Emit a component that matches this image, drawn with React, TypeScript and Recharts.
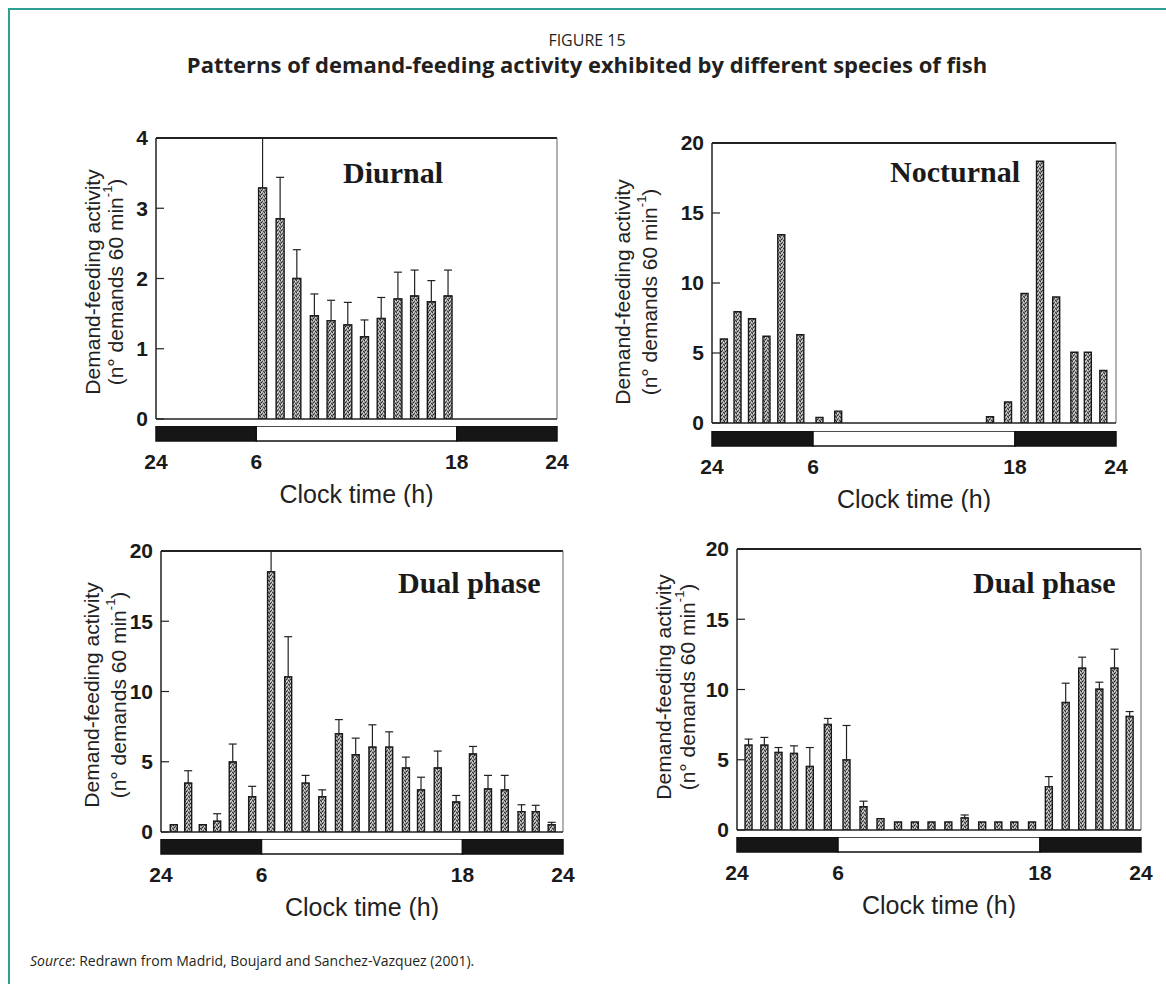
import React from 'react';
import { ComposedChart, BarChart, Bar, XAxis, YAxis, ErrorBar, ReferenceLine } from 'recharts';

// ---------------- data ----------------
const diurnalHours = [6.4, 7.45, 8.45, 9.5, 10.5, 11.5, 12.5, 13.5, 14.5, 15.5, 16.5, 17.5];
const diurnalActivity = [3.29, 2.85, 2.0, 1.47, 1.4, 1.34, 1.17, 1.43, 1.71, 1.75, 1.67, 1.75];
const diurnalSE = [0.71, 0.59, 0.41, 0.31, 0.29, 0.32, 0.24, 0.3, 0.38, 0.37, 0.3, 0.37];

const nocturnalHours = [0.72, 1.53, 2.39, 3.25, 4.13, 5.26, 6.4, 7.51, 16.53, 17.6, 18.58, 19.5, 20.46, 21.54, 22.34, 23.26];
const nocturnalActivity = [6.0, 7.95, 7.45, 6.2, 13.45, 6.3, 0.4, 0.85, 0.45, 1.5, 9.25, 18.7, 9.0, 5.05, 5.05, 3.75];

const dualAHours = [0.74, 1.6, 2.47, 3.33, 4.26, 5.42, 6.55, 7.57, 8.61, 9.6, 10.6, 11.6, 12.6, 13.6, 14.6, 15.5, 16.5, 17.6, 18.6, 19.5, 20.5, 21.5, 22.35, 23.3];
const dualAActivity = [0.52, 3.48, 0.52, 0.76, 4.98, 2.51, 18.53, 11.04, 3.48, 2.51, 6.99, 5.5, 6.04, 6.04, 4.55, 3.0, 4.55, 2.13, 5.55, 3.06, 3.0, 1.45, 1.45, 0.52];
const dualASE = [null, 0.88, null, 0.54, 1.28, 0.74, 1.47, 2.86, 0.55, 0.49, 1.01, 1.18, 1.59, 1.09, 0.78, 0.9, 1.21, 0.47, 0.54, 0.97, 1.03, 0.49, 0.45, 0.17];

const dualBHours = [0.66, 1.6, 2.44, 3.36, 4.3, 5.37, 6.48, 7.49, 8.5, 9.54, 10.54, 11.53, 12.53, 13.5, 14.54, 15.5, 16.45, 17.5, 18.5, 19.5, 20.48, 21.5, 22.4, 23.3];
const dualBActivity = [6.04, 6.04, 5.52, 5.45, 4.52, 7.51, 4.99, 1.66, 0.81, 0.57, 0.57, 0.57, 0.57, 0.86, 0.57, 0.57, 0.57, 0.57, 3.09, 9.07, 11.52, 10.02, 11.52, 8.08];
const dualBSE = [0.43, 0.55, 0.35, 0.54, 1.35, 0.43, 2.45, 0.39, null, null, null, null, null, 0.21, null, null, null, null, 0.71, 1.38, 0.78, 0.5, 1.35, 0.35];

const yTicksDiurnal = [0, 1, 2, 3, 4];
const yTicks20 = [0, 5, 10, 15, 20];
const xTickValues = [0, 6, 18, 24];
const xTickLabels = ['24', '6', '18', '24'];
const lightPhases = ['dark', 'light', 'dark'];
const lightPhaseHours = [6, 12, 6];

const figureLabel = 'FIGURE 15';
const figureTitle = 'Patterns of demand-feeding activity exhibited by different species of fish';
const yTitle1 = 'Demand-feeding activity';
const xTitle = 'Clock time (h)';

// ---------------- styling / layout ----------------
const TEAL = '#2f9f93';
const SANS = '"Liberation Sans", Arial, Helvetica, sans-serif';
const SERIF = '"Liberation Serif", "Times New Roman", serif';
const TITLE_FONT = '"Open Sans", "Noto Sans", sans-serif';

type Layout = {
  L: number; R: number; T: number; Z: number; S: number;
  barSize: number; y1dx: number; y2dx: number; ycy: number;
  name: string; nameX: number; nameY: number;
};

const layouts: Record<string, Layout> = {
  diurnal: { L: 156, R: 557, T: 138, Z: 419, S: 426, barSize: 8, y1dx: -64, y2dx: -41, ycy: 282, name: 'Diurnal', nameX: 343, nameY: 183 },
  nocturnal: { L: 712, R: 1116, T: 143, Z: 423, S: 431, barSize: 7, y1dx: -90, y2dx: -63, ycy: 292, name: 'Nocturnal', nameX: 890, nameY: 182 },
  dualA: { L: 161, R: 563, T: 551, Z: 832, S: 839, barSize: 7, y1dx: -70, y2dx: -43, ycy: 695, name: 'Dual phase', nameX: 398, nameY: 593 },
  dualB: { L: 737, R: 1141, T: 549, Z: 830, S: 837, barSize: 7, y1dx: -74, y2dx: -50, ycy: 687, name: 'Dual phase', nameX: 973, nameY: 593 },
};

const makeYTitle = (lay: Layout) => (props: any) => {
  const vb = props.viewBox || {};
  const right = vb.x + vb.width;
  const cy = vb.y + vb.height / 2 + (lay.ycy - (lay.T + lay.Z) / 2);
  const st = { fontFamily: SANS, fontSize: 21, fill: '#222' };
  return (
    <g>
      <text transform={`translate(${right + lay.y1dx},${cy}) rotate(-90)`} textAnchor="middle" dominantBaseline="central" style={st}>
        {yTitle1}
      </text>
      <text transform={`translate(${right + lay.y2dx},${cy}) rotate(-90)`} textAnchor="middle" dominantBaseline="central" style={st}>
        (n° demands 60 min<tspan dy={-8} fontSize={13}>-1</tspan><tspan dy={8}>)</tspan>
      </text>
    </g>
  );
};

const clockTitle = (props: any) => {
  const vb = props.viewBox || {};
  return (
    <text x={vb.x + vb.width / 2} y={vb.y + 53} textAnchor="middle" dominantBaseline="central"
      style={{ fontFamily: SANS, fontSize: 25, fill: '#222' }}>
      {xTitle}
    </text>
  );
};

function ActivityPanel({ lay, hours, activity, se, yMax, yTicks }: any) {
  const mTop = 14, mBottom = 16, mRight = 12, yAxisW = 60, mLeft = 60;
  const width = (lay.R - lay.L) + yAxisW + mLeft + mRight;
  const height = (lay.Z - lay.T) + mTop + mBottom;
  const data = hours.map((t: number, i: number) => ({
    t,
    v: activity[i],
    err: se && se[i] != null ? [0, se[i]] : null,
  }));
  return (
    <div style={{ position: 'absolute', left: lay.L - yAxisW - mLeft, top: lay.T - mTop }}>
      <ComposedChart width={width} height={height} data={data} margin={{ top: mTop, right: mRight, bottom: mBottom, left: mLeft }}>
        <XAxis dataKey="t" type="number" domain={[0, 24]} hide allowDataOverflow />
        <YAxis
          type="number"
          domain={[0, yMax]}
          ticks={yTicks}
          allowDataOverflow
          width={yAxisW}
          interval={0}
          tickSize={-8}
          tickMargin={16}
          axisLine={{ stroke: '#222', strokeWidth: 1.5 }}
          tickLine={{ stroke: '#222', strokeWidth: 1.2 }}
          tick={{ fontFamily: SANS, fontSize: 21, fontWeight: 700, fill: '#1a1a1a' }}
          label={makeYTitle(lay)}
        />
        <ReferenceLine y={yMax} stroke="#222" strokeWidth={2} />
        <ReferenceLine x={24} stroke="#666" strokeWidth={1} />
        <Bar dataKey="v" barSize={lay.barSize} fill="url(#stipple)" stroke="#1a1a1a" strokeWidth={1.4} isAnimationActive={false}>
          {se && <ErrorBar dataKey="err" width={4} stroke="#222" strokeWidth={1.2} direction="y" />}
        </Bar>
        <ReferenceLine y={0} stroke="#222" strokeWidth={1.5} />
      </ComposedChart>
    </div>
  );
}

function LightStrip({ lay }: any) {
  const side = 40, stripH = 15, axisH = 66;
  const row: any = { name: 'LD' };
  lightPhaseHours.forEach((h, i) => { row['p' + i] = h; });
  return (
    <div style={{ position: 'absolute', left: lay.L - side, top: lay.S }}>
      <BarChart layout="vertical" width={lay.R - lay.L + 2 * side} height={stripH + axisH} data={[row]}
        margin={{ top: 0, right: side, bottom: 0, left: side }} barCategoryGap={0}>
        <XAxis type="number" domain={[0, 24]} ticks={xTickValues} interval={0} height={axisH}
          tickFormatter={(v: number, i: number) => xTickLabels[i]}
          tickLine={false} axisLine={false} tickSize={0} tickMargin={13}
          tick={{ fontFamily: SANS, fontSize: 21, fontWeight: 700, fill: '#1a1a1a' }}
          label={clockTitle}
        />
        <YAxis type="category" dataKey="name" hide />
        {lightPhases.map((ph, i) => (
          <Bar key={i} dataKey={'p' + i} stackId="ld" fill={ph === 'dark' ? '#161616' : '#ffffff'}
            stroke="#111" strokeWidth={1.5} isAnimationActive={false} />
        ))}
      </BarChart>
    </div>
  );
}

export default function App() {
  return (
    <div style={{ position: 'relative', width: 1166, height: 984, overflow: 'hidden', background: '#fff' }}>
      <style>{`html,body{margin:0;padding:0;overflow:hidden;background:#fff}`}</style>
      <svg width={0} height={0} style={{ position: 'absolute' }}>
        <defs>
          <pattern id="stipple" width={4} height={4} patternUnits="userSpaceOnUse">
            <rect width={4} height={4} fill="#9c9c9c" />
            <rect x={0} y={0} width={1} height={1} fill="#2a2a2a" />
            <rect x={2} y={1} width={1} height={1} fill="#444" />
            <rect x={1} y={2} width={1} height={1} fill="#222" />
            <rect x={3} y={3} width={1} height={1} fill="#3a3a3a" />
            <rect x={3} y={1} width={1} height={1} fill="#d8d8d8" />
            <rect x={0} y={3} width={1} height={1} fill="#666" />
            <rect x={1} y={0} width={1} height={1} fill="#e0e0e0" />
            <rect x={2} y={3} width={1} height={1} fill="#cfcfcf" />
          </pattern>
        </defs>
      </svg>
      <div style={{ position: 'absolute', left: 8, top: 8, width: 1158, height: 2, background: TEAL }} />
      <div style={{ position: 'absolute', left: 8, top: 8, width: 2, height: 976, background: TEAL }} />

      <ActivityPanel lay={layouts.diurnal} hours={diurnalHours} activity={diurnalActivity} se={diurnalSE} yMax={4} yTicks={yTicksDiurnal} />
      <LightStrip lay={layouts.diurnal} />
      <ActivityPanel lay={layouts.nocturnal} hours={nocturnalHours} activity={nocturnalActivity} se={null} yMax={20} yTicks={yTicks20} />
      <LightStrip lay={layouts.nocturnal} />
      <ActivityPanel lay={layouts.dualA} hours={dualAHours} activity={dualAActivity} se={dualASE} yMax={20} yTicks={yTicks20} />
      <LightStrip lay={layouts.dualA} />
      <ActivityPanel lay={layouts.dualB} hours={dualBHours} activity={dualBActivity} se={dualBSE} yMax={20} yTicks={yTicks20} />
      <LightStrip lay={layouts.dualB} />

      <svg width={1166} height={984} style={{ position: 'absolute', left: 0, top: 0, pointerEvents: 'none' }}>
        <text x={587} y={40} textAnchor="middle" dominantBaseline="central" style={{ fontFamily: TITLE_FONT, fontSize: 16, fill: '#231f20' }}>{figureLabel}</text>
        <text x={587} y={64} textAnchor="middle" dominantBaseline="central" style={{ fontFamily: TITLE_FONT, fontSize: 22, fontWeight: 700, fill: '#231f20' }}>{figureTitle}</text>
        {Object.values(layouts).map((lay, i) => (
          <text key={i} x={lay.nameX} y={lay.nameY} style={{ fontFamily: SERIF, fontSize: 30, fontWeight: 700, fill: '#1a1a1a' }}>{lay.name}</text>
        ))}
        <text x={30} y={966} style={{ fontFamily: TITLE_FONT, fontSize: 14, fill: '#231f20' }}>
          <tspan fontStyle="italic">Source</tspan>: Redrawn from Madrid, Boujard and Sanchez-Vazquez (2001).
        </text>
      </svg>
    </div>
  );
}
